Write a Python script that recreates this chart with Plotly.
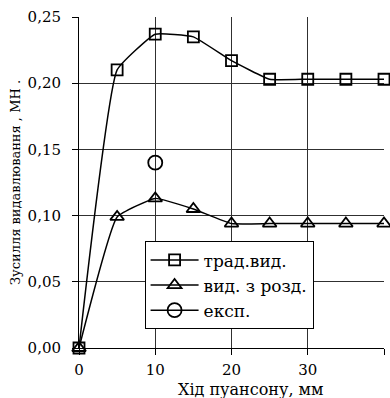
import plotly.graph_objects as go

x_trad = [0, 5, 10, 15, 20, 25, 30, 35, 40]
y_trad = [0.0, 0.210, 0.237, 0.235, 0.217, 0.203, 0.203, 0.203, 0.203]
x_rozd = [0, 5, 10, 15, 20, 25, 30, 35, 40]
y_rozd = [0.0, 0.099, 0.113, 0.105, 0.094, 0.094, 0.094, 0.094, 0.094]
x_eksp = [10]
y_eksp = [0.140]
names = ["трад.вид.", "вид. з розд.", "експ."]
x_ticks = [0, 10, 20, 30, 40]
y_ticks = [0.00, 0.05, 0.10, 0.15, 0.20, 0.25]
x_title = "Хід пуансону, мм"
y_title = "Зусилля видавлювання , МН ."

FONT = "DejaVu Serif"

fig = go.Figure()
fig.add_trace(go.Scatter(
    x=x_trad, y=y_trad, name=names[0], mode="lines+markers",
    line=dict(color="black", width=1.5, shape="spline", smoothing=0.35),
    marker=dict(symbol="square-open", size=11, color="black", line=dict(width=1.8)),
    cliponaxis=False))
fig.add_trace(go.Scatter(
    x=x_rozd, y=y_rozd, name=names[1], mode="lines+markers",
    line=dict(color="black", width=1.5, shape="spline", smoothing=0.35),
    marker=dict(symbol="triangle-up-open", size=12, color="black", line=dict(width=1.8)),
    cliponaxis=False))
fig.add_trace(go.Scatter(
    x=x_eksp, y=y_eksp, name=names[2], mode="lines+markers",
    line=dict(color="black", width=1.5),
    marker=dict(symbol="circle-open", size=14, color="black", line=dict(width=1.8)),
    cliponaxis=False))

fig.update_layout(
    width=390, height=398,
    margin=dict(l=79, r=6, t=17, b=50),
    paper_bgcolor="white", plot_bgcolor="white",
    separators=", ",
    font=dict(family=FONT, size=15, color="black"),
    showlegend=True,
    legend=dict(
        x=0.215, y=0.322, xanchor="left", yanchor="top",
        bgcolor="white", bordercolor="black", borderwidth=1,
        font=dict(family=FONT, size=17, color="black"),
        tracegroupgap=0, itemwidth=48,
    ),
    annotations=[dict(
        text=x_title, xref="paper", yref="paper", x=0.5, y=0,
        xanchor="center", yanchor="top", xshift=19, yshift=-31,
        showarrow=False, borderpad=0,
        font=dict(family=FONT, size=16, color="black"),
    )],
)
fig.update_xaxes(
    range=[0, 40], tickvals=x_ticks, ticktext=[str(v) for v in x_ticks],
    showgrid=True, gridcolor="#303030", gridwidth=1,
    showline=True, linecolor="black", linewidth=1,
    ticks="outside", ticklen=6, tickcolor="black",
    tickfont=dict(family=FONT, size=15), ticklabelstandoff=2,
    zeroline=False,
)
fig.update_yaxes(
    range=[0, 0.25], tickvals=y_ticks, tickformat=".2f",
    showgrid=True, gridcolor="#303030", gridwidth=1,
    showline=True, linecolor="black", linewidth=1,
    ticks="outside", ticklen=6, tickcolor="black",
    tickfont=dict(family=FONT, size=15), ticklabelstandoff=8,
    zeroline=False,
    title=dict(text=y_title, font=dict(family=FONT, size=13), standoff=4),
)

fig.write_html("out.html")
